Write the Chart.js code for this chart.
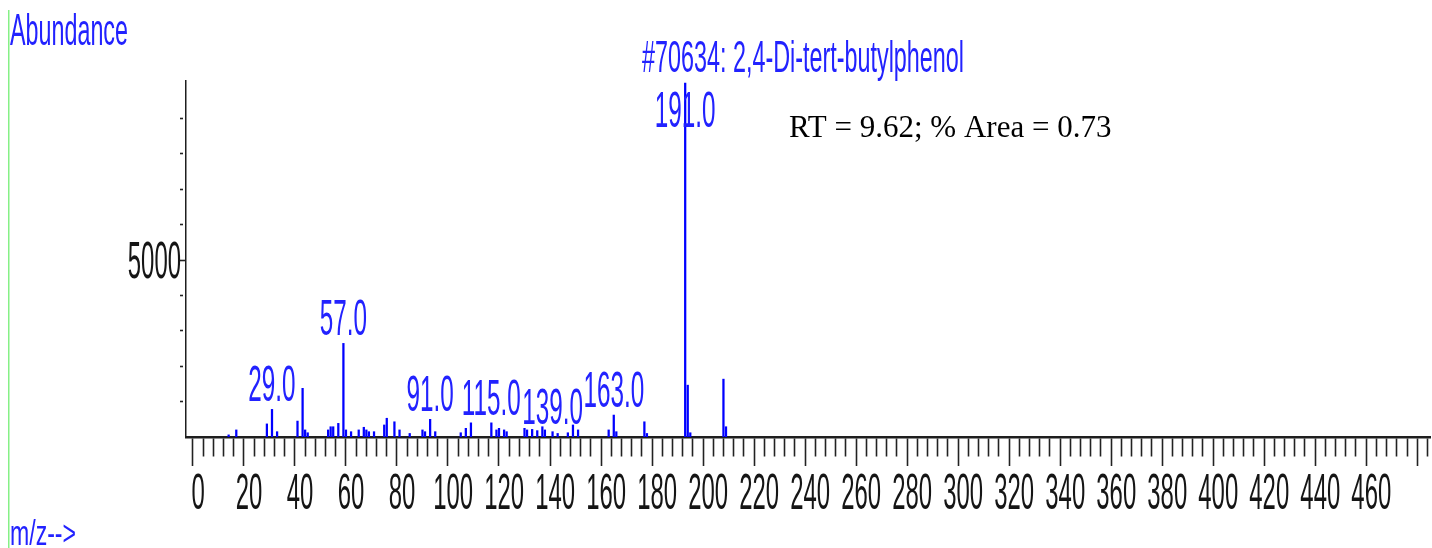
<!DOCTYPE html>
<html lang="en">
<head>
<meta charset="UTF-8">
<title>2,4-Di-tert-butylphenol mass spectrum</title>
<script src="https://cdn.jsdelivr.net/npm/chart.js@4.4.1/dist/chart.umd.min.js"></script>
<style>
  html, body { margin: 0; padding: 0; background: #fff; }
  #wrap { width: 1432px; height: 548px; position: relative; }
</style>
</head>
<body>
<div id="wrap"><canvas id="ms" width="1432" height="548"></canvas></div>
<script>
// peaks (m/z, abundance)
const mz = [12, 15, 27, 29, 31, 39, 41, 42, 43, 51, 52, 53, 55, 57, 58, 60, 63, 65, 66, 67, 69,
            73, 74, 77, 79, 83, 88, 89, 91, 93, 103, 105, 107, 115, 117, 118, 120, 121,
            128, 129, 131, 133, 135, 136, 139, 141, 145, 147, 149, 161, 163, 164, 175, 176,
            191, 192, 193, 206, 207];
const abundance = [60, 200, 370, 780, 150, 450, 1375, 200, 120, 200, 290, 290, 385, 2645, 200, 150, 200, 275, 200, 150, 150,
                   340, 530, 430, 200, 100, 200, 150, 500, 150, 120, 245, 400, 400, 200, 245, 200, 150,
                   245, 200, 215, 180, 290, 200, 150, 100, 120, 340, 200, 200, 620, 150, 430, 100,
                   10000, 1465, 120, 1635, 290];
const labelledPeaks = [29, 57, 91, 115, 139, 163, 191];
const xTickLabels = [0, 20, 40, 60, 80, 100, 120, 140, 160, 180, 200, 220, 240, 260, 280, 300,
                     320, 340, 360, 380, 400, 420, 440, 460];
const yTickLabels = [5000];
const compound = '#70634: 2,4-Di-tert-butylphenol';
const rtNote = 'RT = 9.62; % Area = 0.73';

const NARROW = '"Liberation Sans Narrow", "Liberation Sans", Arial, sans-serif';
const BLUE = '#2222ff';
const INK = '#151515';

// the reference lettering is narrow and tall, so stretch it vertically
function tallText(ctx, text, x, base, o) {
    ctx.save();
    ctx.font = o.size + 'px ' + (o.family || NARROW);
    let sx = 1;
    if (o.width) sx = o.width / ctx.measureText(text).width;
    else if (o.digit) sx = o.digit / ctx.measureText('0').width;
    const sy = o.cap ? o.cap / (o.size * 0.716) : 1;
    ctx.translate(x, base);
    ctx.scale(sx, sy);
    ctx.fillStyle = o.color;
    ctx.textAlign = o.align || 'left';
    ctx.textBaseline = 'alphabetic';
    ctx.fillText(text, 0, 0);
    ctx.restore();
}

const decorations = {
    id: 'decorations',
    afterDraw(chart) {
        const ctx = chart.ctx;
        const xs = chart.scales.x, ys = chart.scales.y;
        const area = chart.chartArea;

        // green window edge on the left
        ctx.save();
        ctx.fillStyle = '#86f086';
        ctx.fillRect(8, 10, 1.5, 538);
        ctx.restore();

        tallText(ctx, 'Abundance', 10, 45, {size: 26, width: 118, cap: 32, color: BLUE});
        tallText(ctx, 'm/z-->', 10, 545, {size: 26, width: 66, cap: 25, color: BLUE});
        tallText(ctx, compound, 642, 72, {size: 26, width: 322, cap: 32, color: BLUE});

        ctx.save();
        ctx.font = '31px "Liberation Serif", "Times New Roman", serif';
        ctx.fillStyle = '#000';
        ctx.textBaseline = 'alphabetic';
        ctx.fillText(rtNote, 789, 137);
        ctx.restore();

        xTickLabels.forEach(v => {
            tallText(ctx, String(v), xs.getPixelForValue(v), 509,
                     {size: 24, digit: 13.3, cap: 36, color: INK, align: 'center'});
        });
        yTickLabels.forEach(v => {
            tallText(ctx, String(v), area.left - 5, ys.getPixelForValue(v) + 18,
                     {size: 24, digit: 13.3, cap: 36.5, color: INK, align: 'right'});
        });

        labelledPeaks.forEach(m => {
            const a = abundance[mz.indexOf(m)];
            const px = xs.getPixelForValue(m);
            const base = Math.max(ys.getPixelForValue(a) - 8, area.top + 46);
            tallText(ctx, m.toFixed(1), px, base,
                     {size: 24, digit: 13.5, cap: 36, color: BLUE, align: 'center'});
        });
    }
};

new Chart(document.getElementById('ms'), {
    type: 'bar',
    data: {
        datasets: [{
            data: mz.map((m, i) => ({x: m, y: abundance[i]})),
            backgroundColor: '#0000ff',
            borderWidth: 0,
            barThickness: 1.6,
            grouped: false
        }]
    },
    options: {
        responsive: false,
        animation: false,
        layout: {
            autoPadding: false,
            padding: {left: 178, right: 2, top: 81, bottom: 71}
        },
        plugins: {
            legend: {display: false},
            tooltip: {enabled: false}
        },
        scales: {
            x: {
                type: 'linear',
                min: -2.7,
                max: 481.0,
                afterBuildTicks: s => {
                    const t = [];
                    for (let v = 0; v <= 480; v += 4) t.push({value: v});
                    s.ticks = t;
                },
                afterFit: s => { s.height = 40; },
                ticks: {callback: () => '', padding: 0},
                grid: {
                    drawOnChartArea: false,
                    tickLength: 29,
                    tickWidth: 1.6,
                    tickColor: '#222',
                    tickBorderDash: c => (c.tick && c.tick.value % 20 === 0) ? [] : [18, 40]
                },
                border: {display: true, color: '#1e1e1e', width: 2.5}
            },
            y: {
                min: 0,
                max: 10060,
                afterBuildTicks: s => {
                    const t = [];
                    for (let v = 1000; v <= 9000; v += 1000) t.push({value: v});
                    s.ticks = t;
                },
                afterFit: s => { s.width = 8; },
                ticks: {callback: () => '', padding: 0},
                grid: {
                    drawOnChartArea: false,
                    tickLength: 6,
                    tickWidth: 1.6,
                    tickColor: '#222',
                    tickBorderDash: c => (c.tick && c.tick.value === 5000) ? [] : [3, 20]
                },
                border: {display: true, color: '#1e1e1e', width: 1.5}
            }
        }
    },
    plugins: [decorations]
});
</script>
</body>
</html>
